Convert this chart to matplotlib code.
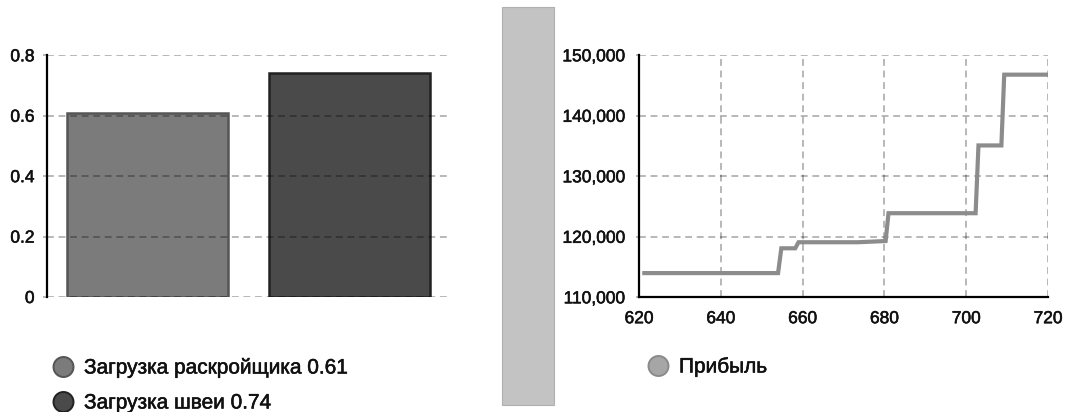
import matplotlib
matplotlib.use("Agg")
import matplotlib.pyplot as plt
import matplotlib.patheffects as pe
from matplotlib.patches import Circle, Rectangle

plt.rcParams['font.family'] = ['Liberation Sans', 'DejaVu Sans']

# загрузка оборудования
load_names = ["Загрузка раскройщика", "Загрузка швеи"]
load_values = [0.61, 0.74]
load_colors = ["#7b7b7b", "#4a4a4a"]
load_edges = ["#555555", "#222222"]
load_ticks = [0, 0.2, 0.4, 0.6, 0.8]
load_ticklabels = ["0", "0.2", "0.4", "0.6", "0.8"]

# прибыль по шагам
profit_x = [621.3, 654.0, 654.8, 658.2, 659.0, 673.5, 680.3, 681.0,
            702.3, 703.0, 708.6, 709.3, 720.0]
profit_y = [114000, 114000, 118100, 118100, 119100, 119100, 119300, 123900,
            123900, 135100, 135100, 146800, 146800]
profit_xticks = [620, 640, 660, 680, 700, 720]
profit_yticks = [110000, 120000, 130000, 140000, 150000]

W, H = 1076, 412
fig = plt.figure(figsize=(W / 100, H / 100), dpi=100)

def box(x0, y0, x1, y1):
    return [x0 / W, 1 - y1 / H, (x1 - x0) / W, (y1 - y0) / H]

thick = [pe.withStroke(linewidth=0.4, foreground="#111111")]
grid_kw = dict(color="black", alpha=0.3, linestyle=(0, (3.8, 2.6)), linewidth=1.3)
tick_gray = (0, 0, 0, 0.3)

# --- столбцы ---
ax1 = fig.add_axes(box(47, 55.3, 450, 297))
ax1.bar(range(len(load_values)), load_values, width=0.8,
        color=load_colors, edgecolor=load_edges, linewidth=1.8, zorder=2)
ax1.set_xlim(-0.5, 1.5)
ax1.set_ylim(0, 0.8)
ax1.set_yticks(load_ticks)
ax1.set_yticklabels(load_ticklabels)
ax1.set_xticks([])
ax1.yaxis.grid(True, zorder=3, **grid_kw)
ax1.set_axisbelow(False)
for s in ["top", "right", "bottom"]:
    ax1.spines[s].set_visible(False)
ax1.spines["left"].set_linewidth(1.6)
ax1.tick_params(axis="y", length=3, width=1.3, color=tick_gray, pad=6,
                labelsize=12.5, labelcolor="#111111")

# --- линия прибыли ---
ax2 = fig.add_axes(box(639, 55.3, 1048, 297.3))
ax2.plot(profit_x, profit_y, color="#8c8c8c", linewidth=3.0,
         solid_joinstyle="miter", zorder=3)
ax2.set_xlim(620, 720)
ax2.set_ylim(110000, 150000)
ax2.set_xticks(profit_xticks)
ax2.set_yticks(profit_yticks)
ax2.set_yticklabels([f"{v:,}" for v in profit_yticks])
ax2.grid(True, zorder=1, **grid_kw)
for s in ["top", "right"]:
    ax2.spines[s].set_visible(False)
ax2.spines["left"].set_linewidth(1.6)
ax2.spines["bottom"].set_linewidth(1.6)
ax2.tick_params(axis="y", length=2, width=1.3, color=tick_gray, pad=8,
                labelsize=12.5, labelcolor="#111111")
ax2.tick_params(axis="x", length=0, pad=10, labelsize=12.5, labelcolor="#111111")

for lab in ax1.get_yticklabels() + ax2.get_yticklabels() + ax2.get_xticklabels():
    lab.set_path_effects(thick)

# --- подложка: разделитель ---
ov = fig.add_axes([0, 0, 1, 1], zorder=-1)
ov.set_xlim(0, W)
ov.set_ylim(H, 0)
ov.axis("off")
ov.add_patch(Rectangle((502, 6.5), 52, 398.5, facecolor="#c3c3c3",
                       edgecolor="#b0b0b0", linewidth=0.8))

# --- легенды ---
top = fig.add_axes([0, 0, 1, 1], zorder=5)
top.set_xlim(0, W)
top.set_ylim(H, 0)
top.axis("off")
top.patch.set_alpha(0)

for i, (name, v) in enumerate(zip(load_names, load_values)):
    cy = 367 + 35 * i
    top.add_patch(Circle((63.5, cy), 10, facecolor=load_colors[i],
                         edgecolor=load_edges[i], linewidth=1.4))
    top.text(84, cy + 1, f"{name} {v:.2f}", fontsize=15, va="center",
             ha="left", color="#111111", path_effects=thick)

top.add_patch(Circle((658.5, 366), 10, facecolor="#a6a6a6",
                     edgecolor="#8a8a8a", linewidth=1.4))
top.text(679, 367, "Прибыль", fontsize=15, va="center", ha="left",
         color="#111111", path_effects=thick)

fig.savefig("out.png", dpi=100)
